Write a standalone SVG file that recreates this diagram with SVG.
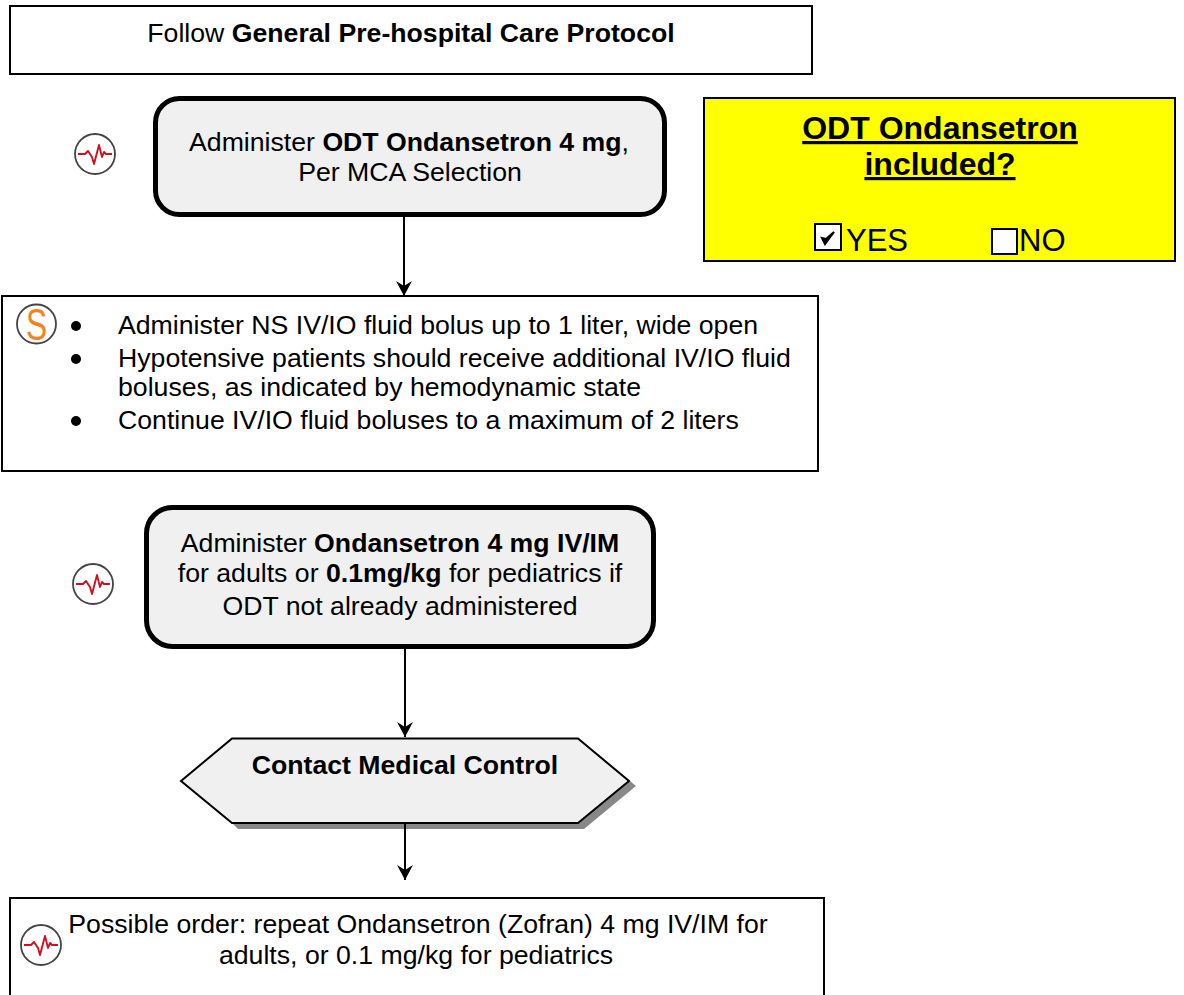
<svg xmlns="http://www.w3.org/2000/svg" width="1184" height="995" viewBox="0 0 1184 995">
<style>
text{font-family:"Liberation Sans",Arial,sans-serif;font-size:26.67px;fill:#000}
.m{text-anchor:middle}
.b{font-weight:bold}
.t{font-size:32px;font-weight:bold;text-decoration:underline}
.o{font-size:31px}
.box{fill:#fff;stroke:#000;stroke-width:2}
.rr{fill:#f0f0f0;stroke:#000;stroke-width:5}
.ring{fill:#fff;stroke:#444;stroke-width:1.8}
.ecg{fill:none;stroke:#d01020;stroke-width:1.9;stroke-linejoin:round}
.conn{fill:none;stroke:#000;stroke-width:2;marker-end:url(#arr)}
</style>
<defs>
<marker id="arr" markerUnits="userSpaceOnUse" markerWidth="16" markerHeight="16" refX="15" refY="8" orient="auto">
<path d="M0 0L15 8L0 16L5 8Z" fill="#000"/>
</marker>
<g id="pulse">
<circle r="20" class="ring"/>
<path class="ecg" d="M-17 0H-10L-7 -3L-3 3L-1 10L4 -9L7 3L9 -2L11 0H17"/>
</g>
</defs>
<rect width="1184" height="995" fill="#fff"/>
<g id="n-general">
<rect class="box" x="10" y="6" width="802" height="68"/>
<text class="m" x="411" y="42">Follow <tspan class="b">General Pre-hospital Care Protocol</tspan></text>
</g>
<g id="n-odt">
<rect class="rr" x="155.500" y="98.500" width="509" height="116" rx="24"/>
<text class="m" x="409" y="151">Administer <tspan class="b">ODT Ondansetron 4 mg</tspan>,</text>
<text class="m" x="410" y="181">Per MCA Selection</text>
</g>
<g id="icon-1"><use href="#pulse" x="95" y="154"/></g>
<g id="n-included">
<rect x="704" y="98" width="471" height="163" fill="#ff0" stroke="#000" stroke-width="2"/>
<text class="m t" x="940" y="139">ODT Ondansetron</text>
<text class="m t" x="940" y="175">included?</text>
<rect x="815" y="224" width="26" height="26" fill="#fff" stroke="#000" stroke-width="2"/>
<path d="M822 238L825 244L834 232L826 239Z" fill="#000" stroke="#000" stroke-width="2"/>
<text class="o" x="846" y="251">YES</text>
<rect x="992" y="229" width="25" height="25" fill="#fff" stroke="#000" stroke-width="2"/>
<text class="o" x="1019" y="251">NO</text>
</g>
<g id="n-fluids">
<rect class="box" x="2" y="296" width="816" height="175"/>
<circle cx="36.500" cy="324" r="19.500" class="ring"/>
<text class="m" transform="translate(36.500 340) scale(.72 1)" style="font-size:44px;fill:#f58220">S</text>
<circle cx="76" cy="326" r="5"/>
<circle cx="76" cy="359" r="5"/>
<circle cx="76" cy="421" r="5"/>
<text x="118" y="334">Administer NS IV/IO fluid bolus up to 1 liter, wide open</text>
<text x="118" y="367">Hypotensive patients should receive additional IV/IO fluid</text>
<text x="118" y="396">boluses, as indicated by hemodynamic state</text>
<text x="118" y="429">Continue IV/IO fluid boluses to a maximum of 2 liters</text>
</g>
<g id="n-iv">
<rect class="rr" x="146.500" y="507.500" width="507" height="139" rx="26"/>
<text class="m" x="400" y="552">Administer <tspan class="b">Ondansetron 4 mg IV/IM</tspan></text>
<text class="m" x="400" y="582">for adults or <tspan class="b">0.1mg/kg</tspan> for pediatrics if</text>
<text class="m" x="400" y="615">ODT not already administered</text>
</g>
<g id="icon-2"><use href="#pulse" x="93" y="584"/></g>
<g id="n-contact">
<path d="M238 829L584 829L636 786L630 781L578 823H232Z" fill="#888"/>
<path d="M232 738.500H578L629 781L578 823H232L181 781Z" fill="#f0f0f0" stroke="#000" stroke-width="2"/>
<text class="m b" x="405" y="774">Contact Medical Control</text>
</g>
<g id="n-order">
<path class="box" d="M10 995V898H824V995"/>
<text class="m" x="418" y="933">Possible order: repeat Ondansetron (Zofran) 4 mg IV/IM for</text>
<text class="m" x="416" y="964">adults, or 0.1 mg/kg for pediatrics</text>
</g>
<g id="icon-3"><use href="#pulse" x="41" y="945"/></g>
<g id="connectors">
<path class="conn" d="M404 215V296"/>
<path class="conn" d="M405 647V737"/>
<path class="conn" d="M405 823V880"/>
</g>
</svg>
